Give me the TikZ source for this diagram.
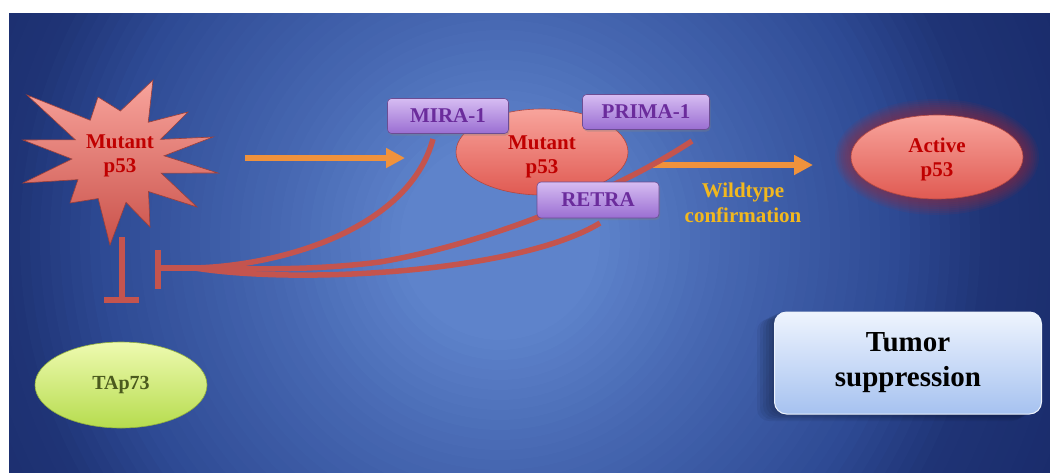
\documentclass[tikz,border=0pt]{standalone}
\usepackage{fontspec}
\setmainfont{Liberation Serif}
\usetikzlibrary{arrows.meta,shapes.geometric,shadows}

\definecolor{bgA}{HTML}{5E83CB}
\definecolor{bgB}{HTML}{4667B1}
\definecolor{bgC}{HTML}{2E4A94}
\definecolor{bgD}{HTML}{1F3476}
\definecolor{bgE}{HTML}{1A2C6C}
\definecolor{inhib}{HTML}{C4544E}
\definecolor{orangearr}{HTML}{F0923C}
\definecolor{purptext}{HTML}{6B2C9C}
\definecolor{boxtop}{HTML}{D6BCF2}
\definecolor{boxbot}{HTML}{9A6ED2}
\definecolor{redtext}{HTML}{C00000}
\definecolor{saltop}{HTML}{F8A49C}
\definecolor{salbot}{HTML}{E05A52}
\definecolor{limetop}{HTML}{EEFAB0}
\definecolor{limebot}{HTML}{B6DC4E}
\definecolor{olivetext}{HTML}{4B5A1E}
\definecolor{wildyellow}{HTML}{F2B81E}
\definecolor{tstop}{HTML}{EEF4FE}
\definecolor{tsbot}{HTML}{A6C2F0}
\definecolor{glowred}{HTML}{9E2A3A}

\tikzset{
  lbl/.style={font=\fontsize{21}{24}\selectfont\bfseries, align=center},
  drugbox/.style={lbl, rectangle, rounded corners=4pt, text=purptext,
    top color=boxtop, bottom color=boxbot, draw=boxbot!70!black, line width=0.6pt,
    inner sep=0pt, drop shadow={opacity=0.35, shadow xshift=1pt, shadow yshift=-2pt}},
  redell/.style={ellipse, inner sep=0pt,
    top color=saltop, bottom color=salbot, draw=salbot!80!black, line width=0.6pt},
  inhibline/.style={draw=inhib, line width=5.5pt},
  inhibbar/.style={draw=inhib, line width=6pt},
  orangearrow/.style={draw=orangearr, line width=6pt,
    -{Triangle[length=19pt,width=19pt]}},
}

\begin{document}
\begin{tikzpicture}[x=1pt,y=-1pt]
\useasboundingbox (0,0) rectangle (1050,472);
% background panel: radial gradient built from concentric discs
\begin{scope}
  \clip (9,13) rectangle (1050,472);
  \fill[bgE] (9,13) rectangle (1050,472);
  \foreach \ra/\rb/\ca/\cb in {600/490/bgE/bgD, 490/400/bgD/bgC, 400/230/bgC/bgB, 230/100/bgB/bgA}{
    \pgfmathtruncatemacro\nn{(\ra-\rb)/10}
    \foreach \k in {0,...,\nn}{
      \pgfmathsetmacro\rr{\ra-10*\k}
      \pgfmathsetmacro\pp{100*\k/\nn}
      \fill[\cb!\pp!\ca] (500,240) circle (\rr);
    }
  }
  \fill[bgA] (500,240) circle (100);
\end{scope}

% glow around Active p53
\foreach \r in {2,4,...,16}{
  \fill[glowred, opacity=0.09] (937,157) ellipse ({86+\r} and {42+\r});
}

% mutant p53 star
\shade[top color=saltop, bottom color=salbot!90!black, draw=salbot!70!black, line width=0.6pt]
  (213,137) -- (160.5,139.4) -- (188,112) -- (148.2,122.3) -- (153,80) -- (120.4,111.0)
  -- (98,97) -- (90.3,120.3) -- (27,95) -- (75.4,139.8) -- (23,140) -- (72.0,159.0)
  -- (23,183) -- (78.0,179.6) -- (70,203) -- (98.2,198.5) -- (110,245) -- (126.0,202.3)
  -- (150,227) -- (148.5,191.5) -- (197,207) -- (161.1,173.1) -- (218,173) -- (164,155.8) -- cycle;
\node[lbl, text=redtext] (star) at (120,156) {Mutant\\p53};

% central mutant p53
\node[redell, minimum width=172pt, minimum height=86pt] (mut) at (542,152) {};
\node[lbl, text=redtext] (mutlbl) at (542,157) {Mutant\\p53};

% active p53
\node[redell, minimum width=172pt, minimum height=84pt] (act) at (937,157) {};
\node[lbl, text=redtext] (actlbl) at (937,159) {Active\\p53};

% TAp73
\node[lbl, ellipse, inner sep=0pt, minimum width=172pt, minimum height=86pt,
  top color=limetop, bottom color=limebot, draw=limebot!80!black, line width=0.6pt,
  text=olivetext, font=\fontsize{20}{23}\selectfont\bfseries] (tap) at (121,385) {TAp73};

% Tumor suppression box
\foreach \s in {3,6,...,18}{
  \fill[black, opacity=0.06, rounded corners=12pt] (775-\s,310+0.5*\s) rectangle (1042-\s,412+0.5*\s);
}
\node[rectangle, rounded corners=12pt, minimum width=267pt, minimum height=102pt,
  top color=tstop, bottom color=tsbot, draw=white!80!tsbot, line width=1pt,
  align=center, font=\fontsize{29}{35}\selectfont\bfseries] (ts) at (908,363) {Tumor\\suppression};

% coordinates for connectors
\coordinate (a1s) at (245,158);
\coordinate (a1e) at (405,158);
\coordinate (a2s) at (653,165);
\coordinate (a2e) at (813,165);
\coordinate (mstart) at (433,139);
\coordinate (pstart) at (692,141);
\coordinate (rstart) at (600,223);
\coordinate (join) at (195,268);
\coordinate (jend) at (158,268);
\coordinate (barT) at (158,250);
\coordinate (barB) at (158,289);
\coordinate (sbot) at (122,237);
\coordinate (sbar) at (122,300);
\coordinate (sbarL) at (104,300);
\coordinate (sbarR) at (139,300);

% orange arrows
\draw[orangearrow] (a1s) -- (a1e);
\draw[orangearrow] (a2s) -- (a2e);

% Wildtype label
\node[lbl, text=wildyellow, font=\fontsize{21}{25}\selectfont\bfseries] (wt) at (743,203) {Wildtype\\confirmation};

% inhibition lines
\draw[inhibline] (mstart) .. controls (410,225) and (290,265) .. (join);
\draw[inhibline] (pstart) .. controls (610,195) and (480,245) .. (380,262)
  .. controls (300,272) and (240,268) .. (join);
\draw[inhibline] (rstart) .. controls (520,272) and (300,285) .. (join);
\draw[inhibline] (join) -- (jend);
\draw[inhibbar] (barT) -- (barB);
\draw[inhibbar] (sbot) -- (sbar);
\draw[inhibbar] (sbarL) -- (sbarR);

% drug boxes
\node[drugbox, minimum width=121pt, minimum height=35pt] (mira) at (448,116) {MIRA-1};
\node[drugbox, minimum width=127pt, minimum height=35pt] (prima) at (646,112) {PRIMA-1};
\node[drugbox, minimum width=122pt, minimum height=36pt] (retra) at (598,200) {RETRA};
\end{tikzpicture}
\end{document}
